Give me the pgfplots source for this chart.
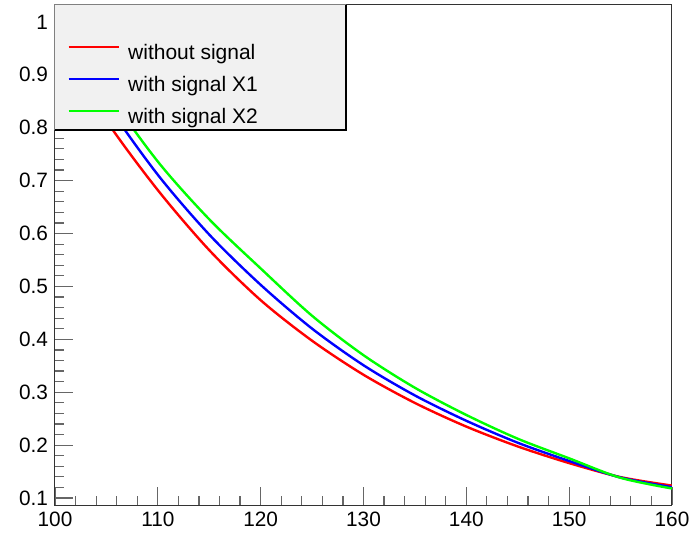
\documentclass[border=0pt]{standalone}
\usepackage{fontspec}
\setmainfont{Liberation Sans}
\usepackage{pgfplots}
\pgfplotsset{compat=1.18}
\definecolor{rred}{RGB}{255,0,0}
\definecolor{rblue}{RGB}{0,0,255}
\definecolor{rgreen}{RGB}{0,255,0}
\definecolor{leggray}{RGB}{241,241,241}
\begin{document}
\begin{tikzpicture}
\useasboundingbox (-27.5pt,-15.5pt) rectangle (320.5pt,252.5pt);
\begin{axis}[
  at={(0,0)}, anchor=south west,
  scale only axis, width=308.5pt, height=250pt,
  xmin=100, xmax=160, ymin=0.0868, ymax=1.032,
  xtick={100,110,120,130,140,150,160},
  ytick={0.1,0.2,0.3,0.4,0.5,0.6,0.7,0.8,0.9,1},
  yticklabels={0.1,0.2,0.3,0.4,0.5,0.6,0.7,0.8,0.9,1},
  minor x tick num=4, minor y tick num=4,
  tick align=inside, xtick pos=bottom, ytick pos=left,
  major tick length=9pt, minor tick length=4.5pt,
  every tick/.style={black!60, line width=0.6pt},
  axis line style={black!80, line width=0.5pt},
  tick label style={font=\fontsize{10.4}{12}\selectfont},
  /pgf/number format/assume math mode=true,
  clip mode=individual,
  legend style={draw=none, fill=none,
    at={(axis description cs:0.01945,0.9206)}, anchor=north west,
    inner sep=0pt, /tikz/row sep=7pt, /tikz/column sep=4.2pt,
    font=\fontsize{10.5}{12}\selectfont,
    nodes={inner sep=0pt, text height=7pt, text depth=2pt}},
  legend cell align=left,
  legend image code/.code={\draw[#1] (0pt,3.5pt) -- (25pt,3.5pt);},
]
\addplot[rred, line width=1.2pt, smooth] coordinates {
(100,0.970) (105,0.8133) (110,0.682) (115,0.5686) (120,0.474) (125,0.3973)
(130,0.333) (135,0.2797) (140,0.235) (145,0.1975) (150,0.166) (155,0.1395) (160,0.1235)};
\addlegendentry{without signal}
\addplot[rblue, line width=1.2pt, smooth] coordinates {
(100,1.005) (105,0.8466) (110,0.711) (115,0.598) (120,0.503) (125,0.4202)
(130,0.351) (135,0.2939) (140,0.246) (145,0.2045) (150,0.170) (155,0.1388) (160,0.1205)};
\addlegendentry{with signal X1}
\addplot[rgreen, line width=1.2pt, smooth] coordinates {
(100,1.03) (105,0.8707) (110,0.736) (115,0.6269) (120,0.534) (125,0.4445)
(130,0.370) (135,0.3084) (140,0.257) (145,0.2121) (150,0.175) (155,0.1382) (160,0.118)};
\addlegendentry{with signal X2}
\fill[leggray] (axis description cs:0,1) rectangle (axis description cs:0.4716,0.75);
\draw[black!50, line width=0.5pt] (axis description cs:0,0.75) -- (axis description cs:0,1) -- (axis description cs:0.4716,1);
\draw[black, line width=1pt] (axis description cs:0.4716,1) -- (axis description cs:0.4716,0.75) -- (axis description cs:0,0.75);
\end{axis}
\end{tikzpicture}
\end{document}
